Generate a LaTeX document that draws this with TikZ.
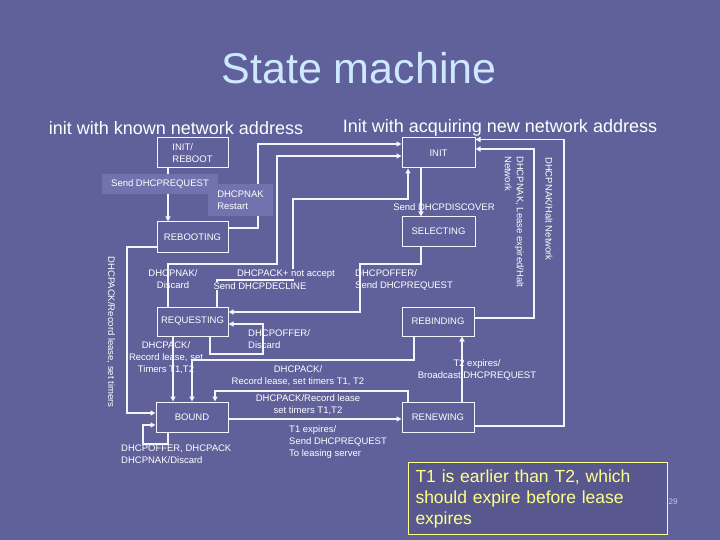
\documentclass[tikz,border=0pt]{standalone}
\usepackage{fontspec}
\setmainfont{Liberation Sans}
\usetikzlibrary{arrows.meta}
\definecolor{bg}{RGB}{96,96,154}
\definecolor{lblfill}{RGB}{114,114,174}
\definecolor{titlec}{RGB}{206,232,255}
\definecolor{linec}{RGB}{245,245,255}
\definecolor{yel}{RGB}{255,255,140}
\definecolor{pgnum}{RGB}{200,200,220}
\begin{document}
\begin{tikzpicture}[x=1pt,y=-1pt,
  state/.style={draw=linec, line width=1pt, text=white, font=\fontsize{9.5}{12}\selectfont, inner sep=0pt},
  lbl/.style={text=white, font=\fontsize{9.5}{12}\selectfont, inner sep=0pt},
  conn/.style={draw=linec, line width=1.3pt, -{Triangle[length=5pt,width=5pt]}},
  thickconn/.style={conn, line width=2pt},
  plain/.style={draw=linec, line width=1.3pt},
  fillbox/.style={fill=lblfill, inner sep=0pt}
]
\fill[bg] (0,0) rectangle (720,540);
\useasboundingbox (0,0) rectangle (720,540);

% titles
\node[text=titlec, font=\fontsize{43}{50}\selectfont] (title) at (359,68) {State machine};
\node[text=white, font=\fontsize{18}{21}\selectfont] (sub1) at (176,128) {init with known network address};
\node[text=white, font=\fontsize{18}{21}\selectfont] (sub2) at (500,128) {Init with acquiring new network address};

% states
\node[state, minimum width=71pt, minimum height=30pt, align=left] (initreboot) at (192.5,153) {INIT/\\REBOOT};
\node[state, minimum width=73pt, minimum height=30pt] (init) at (438.5,153) {INIT};
\node[state, minimum width=73pt, minimum height=29pt] (selecting) at (438.5,231.5) {SELECTING};
\node[state, minimum width=71pt, minimum height=30pt] (rebooting) at (192.5,237) {REBOOTING};
\node[state, minimum width=71pt, minimum height=29pt] (requesting) at (192.5,321.5) {REQUESTING};
\node[state, minimum width=72pt, minimum height=29pt] (rebinding) at (438,321.5) {REBINDING};
\node[state, minimum width=72pt, minimum height=30pt] (bound) at (192,417) {BOUND};
\node[state, minimum width=72pt, minimum height=30pt] (renewing) at (438,417) {RENEWING};

% connectors
\draw[thickconn] (168,0 |- initreboot.south) -- (168,0 |- rebooting.north);
\draw[conn] (rebooting.east |- 0,228) -- (258,228) -- (258,144) -- (init.west |- 0,144);
\draw[conn] (168,0 |- requesting.north) -- (168,264) -- (277,264) -- (277,156) -- (init.west |- 0,156);
\draw[conn] (217,0 |- requesting.north) -- (217,280) -- (293,280) -- (293,199) -- (408,199) -- (408,0 |- init.south);
\draw[conn] (421,0 |- init.south) -- (421,0 |- selecting.north);
\draw[conn] (421,0 |- selecting.south) -- (421,264) -- (360,264) -- (360,312) -- (requesting.east |- 0,312);
\draw[conn] (rebinding.east |- 0,318) -- (534,318) -- (534,149) -- (init.east |- 0,149);
\draw[conn] (renewing.east |- 0,426) -- (564,426) -- (564,139.5) -- (init.east |- 0,139.5);
\draw[conn] (rebooting.west |- 0,247) -- (127,247) -- (127,413) -- (bound.west |- 0,413);
\draw[thickconn] (173,0 |- requesting.south) -- (173,0 |- bound.north);
\draw[conn] (414,0 |- rebinding.south) -- (414,360) -- (192,360) -- (192,0 |- bound.north);
\draw[conn] (408,0 |- renewing.north) -- (408,391) -- (215,391) -- (215,0 |- bound.north);
\draw[thickconn] (bound.east |- 0,419) -- (renewing.west |- 0,419);
\draw[thickconn] (462,0 |- renewing.north) -- (462,0 |- rebinding.south);
\draw[conn] (210,0 |- requesting.south) -- (210,354) -- (263,354) -- (263,324) -- (requesting.east |- 0,324);
\draw[conn] (168,0 |- bound.south) -- (168,444) -- (143,444) -- (143,425) -- (bound.west |- 0,425);

% labels
\node[lbl, fillbox, minimum width=116pt, minimum height=20pt] (lsendreq) at (160,184) {Send DHCPREQUEST};
\node[lbl, fillbox, minimum width=65pt, minimum height=32pt, align=left] (lnak) at (240.5,200) {DHCPNAK\\Restart};
\node[lbl] (ldisc) at (444,207) {Send DHCPDISCOVER};
\node[lbl, align=center] (lnakdis) at (173,279.5) {DHCPNAK/\\Discard};
\node[lbl, fill=bg, inner sep=1pt] (lacka) at (286,274) {DHCPACK+ not accept};
\node[lbl, fill=bg, inner sep=1pt] (lackb) at (260,286) {Send DHCPDECLINE};
\node[lbl, align=left, anchor=west] (loffer) at (355,279.5) {DHCPOFFER/\\Send DHCPREQUEST};
\node[lbl, align=left, anchor=west] (lofferd) at (248,339.5) {DHCPOFFER/\\Discard};
\node[lbl, align=center] (lackreq) at (166,358) {DHCPACK/\\Record lease, set\\Timers T1,T2};
\node[lbl, align=center] (lackreb) at (298,376) {DHCPACK/\\Record lease, set timers T1, T2};
\node[lbl, align=center] (lackren) at (308,405) {DHCPACK/Record lease\\set timers T1,T2};
\node[lbl, align=left, anchor=west] (lt1) at (289,442) {T1 expires/\\Send DHCPREQUEST\\To leasing server};
\node[lbl, align=center] (lt2) at (477,369.5) {T2 expires/\\Broadcast DHCPREQUEST};
\node[lbl, align=left, anchor=west] (lbself) at (121,454) {DHCPOFFER, DHCPACK\\DHCPNAK/Discard};
\node[lbl, rotate=-90] (lrbt) at (111,332) {DHCPACK/Record lease, set timers};
\node[lbl, rotate=-90] (lhalt) at (549,209) {DHCPNAK/Halt Network};
\node[lbl, rotate=-90, align=left, anchor=north west] (llease) at (524,156) {DHCPNAK, Lease expired/Halt\\Network};

% note box
\node[draw=yel, line width=1pt, fill=bg!92!black, anchor=north west, minimum width=259pt, minimum height=72pt,
      text width=245pt, align=left, inner xsep=7pt, inner ysep=2pt, text=yel,
      font=\fontsize{17.5}{21}\selectfont] (note) at (408,462)
      {T1 is earlier than T2, which\\should expire before lease\\expires};
\node[text=pgnum, font=\fontsize{8}{9}\selectfont, inner sep=0pt] (pg) at (673,502) {29};
\end{tikzpicture}
\end{document}
